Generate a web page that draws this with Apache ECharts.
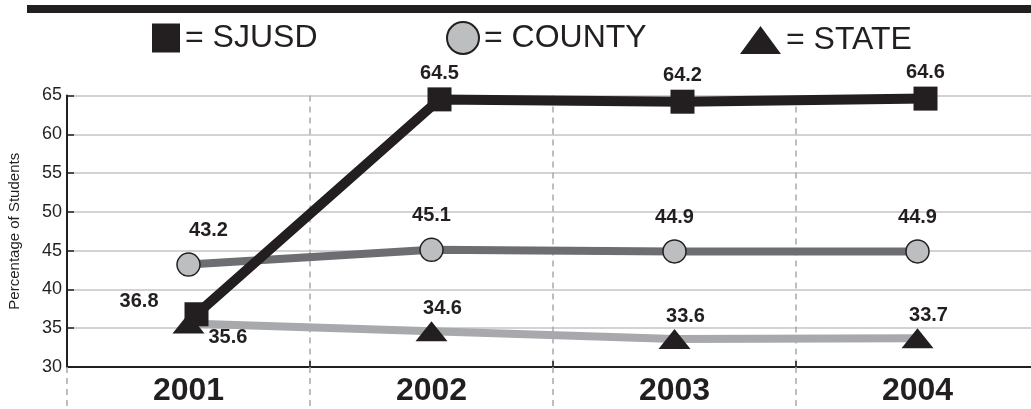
<!DOCTYPE html>
<html>
<head>
<meta charset="utf-8">
<script src="https://cdn.jsdelivr.net/npm/echarts@6/dist/echarts.min.js"></script>
<style>
  html, body { margin: 0; padding: 0; background: #fff; }
  #chart { width: 1031px; height: 409px; }
</style>
</head>
<body>
<div id="chart"></div>
<script>
// Percentage of students, by year
const years = ['2001', '2002', '2003', '2004'];
const sjusd = [36.8, 64.5, 64.2, 64.6];
const county = [43.2, 45.1, 44.9, 44.9];
const state = [35.6, 34.6, 33.6, 33.7];
const yTicks = { min: 30, max: 65, step: 5 };

const INK = '#231f20';
const SANS = "'Liberation Sans', Arial, Helvetica, sans-serif";

const labelBase = { show: true, color: INK, fontFamily: SANS, fontWeight: 'bold', fontSize: 20 };

// per-point label placement
const sjusdData = sjusd.map((v, i) => i === 0
  ? { value: v, label: { position: 'left', distance: 26, offset: [0, -13] } }
  : v);
const countyData = county.map((v, i) => i === 0
  ? { value: v, label: { offset: [20, 0] } }
  : v);
const stateData = state.map((v, i) => i === 0
  ? { value: v, label: { position: 'right', distance: 4, offset: [0, 14] } }
  : v);

const legendText = { color: INK, fontFamily: SANS, fontSize: 32 };
const legendBase = { padding: 0, formatter: '= {name}', textStyle: legendText, selectedMode: false };

// main plot box; the SJUSD marks sit on a twin box nudged a few pixels right
const PLOT = { top: 95.5, width: 972, height: 271.5, containLabel: false, outerBoundsMode: 'none' };

const option = {
  animation: false,
  backgroundColor: '#fff',
  graphic: [
    { type: 'rect', left: 27, top: 5, shape: { width: 1004, height: 8 }, style: { fill: INK }, z: 10 }
  ],
  legend: [
    Object.assign({ data: ['SJUSD'], left: 152, top: 22, icon: 'rect', itemWidth: 28, itemHeight: 29 }, legendBase),
    Object.assign({ data: ['COUNTY'], left: 446, top: 21, icon: 'circle', itemWidth: 32, itemHeight: 33 }, legendBase),
    Object.assign({ data: ['STATE'], left: 740, top: 24, icon: 'triangle', itemWidth: 41, itemHeight: 28 }, legendBase)
  ],
  grid: [
    Object.assign({ left: 67 }, PLOT),
    Object.assign({ left: 75 }, PLOT)
  ],
  xAxis: [
    {
      type: 'category',
      gridIndex: 0,
      data: years,
      boundaryGap: true,
      axisLine: { show: true, lineStyle: { color: INK, width: 2 } },
      axisTick: { show: true, inside: true, length: 6, lineStyle: { color: INK, width: 1.5 } },
      axisLabel: { color: INK, fontFamily: SANS, fontWeight: 'bold', fontSize: 32, margin: 8 },
      splitLine: { show: true, lineStyle: { color: '#a7a9ac', width: 1.5, type: [6, 5] } }
    },
    {
      type: 'category',
      gridIndex: 0,
      data: years,
      position: 'bottom',
      boundaryGap: true,
      axisLine: { show: false },
      axisTick: { show: true, inside: false, length: 42, lineStyle: { color: '#a7a9ac', width: 1.5, type: [6, 5] } },
      axisLabel: { show: false },
      splitLine: { show: false }
    },
    {
      type: 'category',
      gridIndex: 1,
      data: years,
      boundaryGap: true,
      show: false
    }
  ],
  yAxis: [
    {
      type: 'value',
      gridIndex: 0,
      min: yTicks.min,
      max: yTicks.max,
      interval: yTicks.step,
      name: 'Percentage of Students',
      nameLocation: 'middle',
      nameGap: 45,
      nameTextStyle: { color: INK, fontFamily: SANS, fontSize: 15 },
      axisLine: { show: true, lineStyle: { color: INK, width: 2 } },
      axisTick: { show: true, inside: true, length: 7, lineStyle: { color: INK, width: 1.5 } },
      axisLabel: { color: INK, fontFamily: SANS, fontSize: 18, margin: 5 },
      splitLine: { show: true, lineStyle: { color: '#c4c5c7', width: 1.5 } }
    },
    {
      type: 'value',
      gridIndex: 1,
      min: yTicks.min,
      max: yTicks.max,
      interval: yTicks.step,
      show: false,
      splitLine: { show: false }
    }
  ],
  series: [
    {
      name: 'STATE',
      type: 'line',
      xAxisIndex: 0,
      yAxisIndex: 0,
      data: stateData,
      symbol: 'triangle',
      symbolSize: [32, 20],
      lineStyle: { color: '#a7a9ac', width: 8 },
      itemStyle: { color: INK },
      label: Object.assign({}, labelBase, { position: 'top', distance: 3, offset: [11, 0] }),
      z: 2
    },
    {
      name: 'COUNTY',
      type: 'line',
      xAxisIndex: 0,
      yAxisIndex: 0,
      data: countyData,
      symbol: 'circle',
      symbolSize: 23,
      lineStyle: { color: '#6d6e71', width: 8 },
      itemStyle: { color: '#bcbec0', borderColor: INK, borderWidth: 1.5 },
      label: Object.assign({}, labelBase, { position: 'top', distance: 12 }),
      z: 3
    },
    {
      name: 'SJUSD',
      type: 'line',
      xAxisIndex: 2,
      yAxisIndex: 1,
      data: sjusdData,
      symbol: 'rect',
      symbolSize: 24,
      lineStyle: { color: INK, width: 10 },
      itemStyle: { color: INK },
      label: Object.assign({}, labelBase, { position: 'top', distance: 4 }),
      z: 4
    }
  ]
};

const chart = echarts.init(document.getElementById('chart'), null, { renderer: 'canvas' });
chart.setOption(option);
</script>
</body>
</html>
